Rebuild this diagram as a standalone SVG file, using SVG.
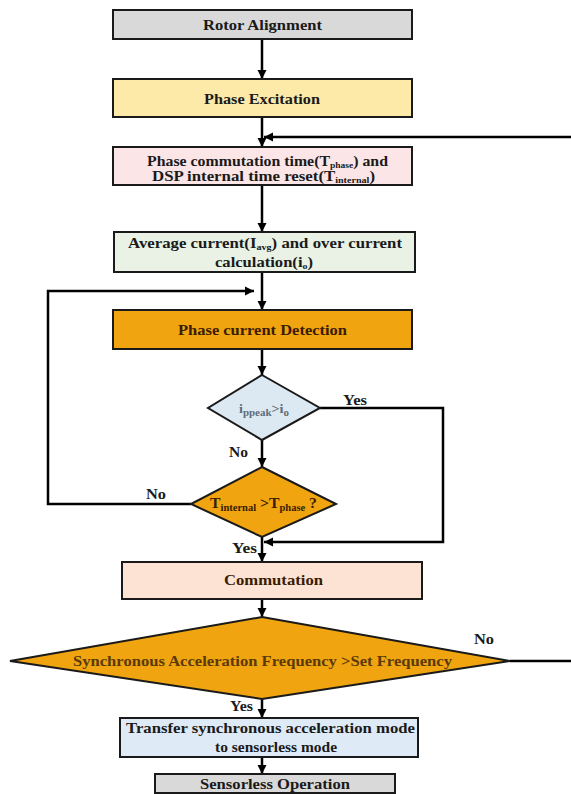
<svg xmlns="http://www.w3.org/2000/svg" width="571" height="794" viewBox="0 0 571 794">
<style>
  .box { stroke: #1a1a1a; stroke-width: 2; }
  .t { font-family: "Liberation Serif", "Times New Roman", serif; font-weight: bold; font-size: 15px; fill: #1a1a1a; text-anchor: middle; }
  .lbl { font-family: "Liberation Serif", "Times New Roman", serif; font-weight: bold; font-size: 14px; fill: #1a1a1a; }
  .brown { fill: #3a1c00; }
  .conn { stroke: #000; stroke-width: 2.5; fill: none; }
  .sub { font-size: 10px; }
  .sub9 { font-size: 9px; }
</style>
<defs>
  <marker id="ah" markerUnits="userSpaceOnUse" markerWidth="10" markerHeight="10" refX="9" refY="5" orient="auto">
    <path d="M0,0.5 L9,5 L0,9.5 z" fill="#000"/>
  </marker>
</defs>
<rect width="571" height="794" fill="#ffffff"/>

<g id="connectors">
  <line class="conn" x1="262" y1="39" x2="262" y2="79" marker-end="url(#ah)"/>
  <line class="conn" x1="262" y1="117" x2="262" y2="147" marker-end="url(#ah)"/>
  <line class="conn" x1="571" y1="137" x2="264" y2="137" marker-end="url(#ah)"/>
  <line class="conn" x1="262" y1="185" x2="262" y2="232" marker-end="url(#ah)"/>
  <line class="conn" x1="262" y1="272" x2="262" y2="310" marker-end="url(#ah)"/>
  <polyline class="conn" points="191,504 48,504 48,291 254,291" marker-end="url(#ah)"/>
  <line class="conn" x1="262" y1="349" x2="262" y2="375" marker-end="url(#ah)"/>
  <line class="conn" x1="262" y1="440" x2="262" y2="467" marker-end="url(#ah)"/>
  <polyline class="conn" points="320,408 443,408 443,542 264,542" marker-end="url(#ah)"/>
  <line class="conn" x1="262" y1="537" x2="262" y2="562" marker-end="url(#ah)"/>
  <line class="conn" x1="262" y1="599" x2="262" y2="617" marker-end="url(#ah)"/>
  <line class="conn" x1="510" y1="661" x2="571" y2="661"/>
  <line class="conn" x1="262" y1="699" x2="262" y2="718" marker-end="url(#ah)"/>
  <line class="conn" x1="262" y1="757" x2="262" y2="774" marker-end="url(#ah)"/>
  <text class="lbl" x="343" y="405" textLength="24" lengthAdjust="spacingAndGlyphs">Yes</text>
  <text class="lbl" x="229" y="457" textLength="19" lengthAdjust="spacingAndGlyphs">No</text>
  <text class="lbl" x="146" y="499" textLength="20" lengthAdjust="spacingAndGlyphs">No</text>
  <text class="lbl" x="232" y="553" textLength="25" lengthAdjust="spacingAndGlyphs">Yes</text>
  <text class="lbl" x="474" y="644" textLength="20" lengthAdjust="spacingAndGlyphs">No</text>
  <text class="lbl" x="230" y="711" textLength="23" lengthAdjust="spacingAndGlyphs">Yes</text>
</g>

<g id="rotor-alignment">
  <rect class="box" x="113" y="10" width="299" height="29" fill="#d9d9d9"/>
  <text class="t" x="262.5" y="30" textLength="119" lengthAdjust="spacingAndGlyphs">Rotor Alignment</text>
</g>

<g id="phase-excitation">
  <rect class="box" x="113" y="79" width="299" height="38" fill="#fde9a8"/>
  <text class="t" x="262" y="104" textLength="116" lengthAdjust="spacingAndGlyphs">Phase Excitation</text>
</g>

<g id="phase-commutation-reset">
  <rect class="box" x="113" y="147" width="299" height="38" fill="#fce5e6"/>
  <text class="t" x="267.5" y="166" textLength="241" lengthAdjust="spacingAndGlyphs">Phase commutation time(T<tspan class="sub9" dy="2">phase</tspan><tspan dy="-2">) and</tspan></text>
  <text class="t" x="263.5" y="181" textLength="223" lengthAdjust="spacingAndGlyphs">DSP internal time reset(T<tspan class="sub9" dy="2">internal</tspan><tspan dy="-2">)</tspan></text>
</g>

<g id="average-current">
  <rect class="box" x="114" y="232" width="301" height="40" fill="#e9f2e5"/>
  <text class="t" x="265" y="248" textLength="274" lengthAdjust="spacingAndGlyphs">Average current(I<tspan class="sub9" dy="2">avg</tspan><tspan dy="-2">) and over current</tspan></text>
  <text class="t" x="264" y="267" textLength="98" lengthAdjust="spacingAndGlyphs">calculation(i<tspan class="sub9" dy="2">o</tspan><tspan dy="-2">)</tspan></text>
</g>

<g id="phase-current-detection">
  <rect class="box" x="113" y="310" width="299" height="39" fill="#f0a40f"/>
  <text class="t brown" x="262.5" y="335" textLength="169" lengthAdjust="spacingAndGlyphs">Phase current Detection</text>
</g>

<g id="decision-ipeak">
  <polygon class="box" points="262,375 320,408 262,440 208,408" fill="#dde9f2"/>
  <text class="t" x="264" y="413" style="font-size:13px;fill:#5e6c7a" textLength="50" lengthAdjust="spacingAndGlyphs">i<tspan class="sub" dy="3">ppeak</tspan><tspan dy="-3">&gt;i</tspan><tspan class="sub" dy="3">o</tspan></text>
</g>

<g id="decision-time">
  <polygon class="box" points="262,467 336,504 262,537 191,504" fill="#f0a40f"/>
  <text class="t brown" x="263.5" y="508" textLength="107" lengthAdjust="spacingAndGlyphs">T<tspan class="sub" dy="3">internal</tspan><tspan dy="-3"> &gt;T</tspan><tspan class="sub" dy="3">phase</tspan><tspan dy="-3"> ?</tspan></text>
</g>

<g id="commutation">
  <rect class="box" x="122" y="562" width="300" height="37" fill="#fce3d4"/>
  <text class="t brown" x="273.5" y="585" textLength="99" lengthAdjust="spacingAndGlyphs">Commutation</text>
</g>

<g id="decision-frequency">
  <polygon class="box" points="262,617 510,661 262,699 10,661" fill="#f0a40f"/>
  <text class="t" x="262.5" y="666" style="fill:#5a3a08" textLength="379" lengthAdjust="spacingAndGlyphs">Synchronous Acceleration Frequency &gt;Set Frequency</text>
</g>

<g id="transfer-mode">
  <rect class="box" x="120" y="718" width="298" height="39" fill="#deeaf5"/>
  <text class="t" x="270.5" y="733" textLength="289" lengthAdjust="spacingAndGlyphs">Transfer synchronous acceleration mode</text>
  <text class="t" x="276" y="752" textLength="122" lengthAdjust="spacingAndGlyphs">to sensorless mode</text>
</g>

<g id="sensorless-operation">
  <rect class="box" x="155" y="774" width="240" height="19" fill="#d9d9d9"/>
  <text class="t" x="275" y="789" textLength="150" lengthAdjust="spacingAndGlyphs">Sensorless Operation</text>
</g>
</svg>
